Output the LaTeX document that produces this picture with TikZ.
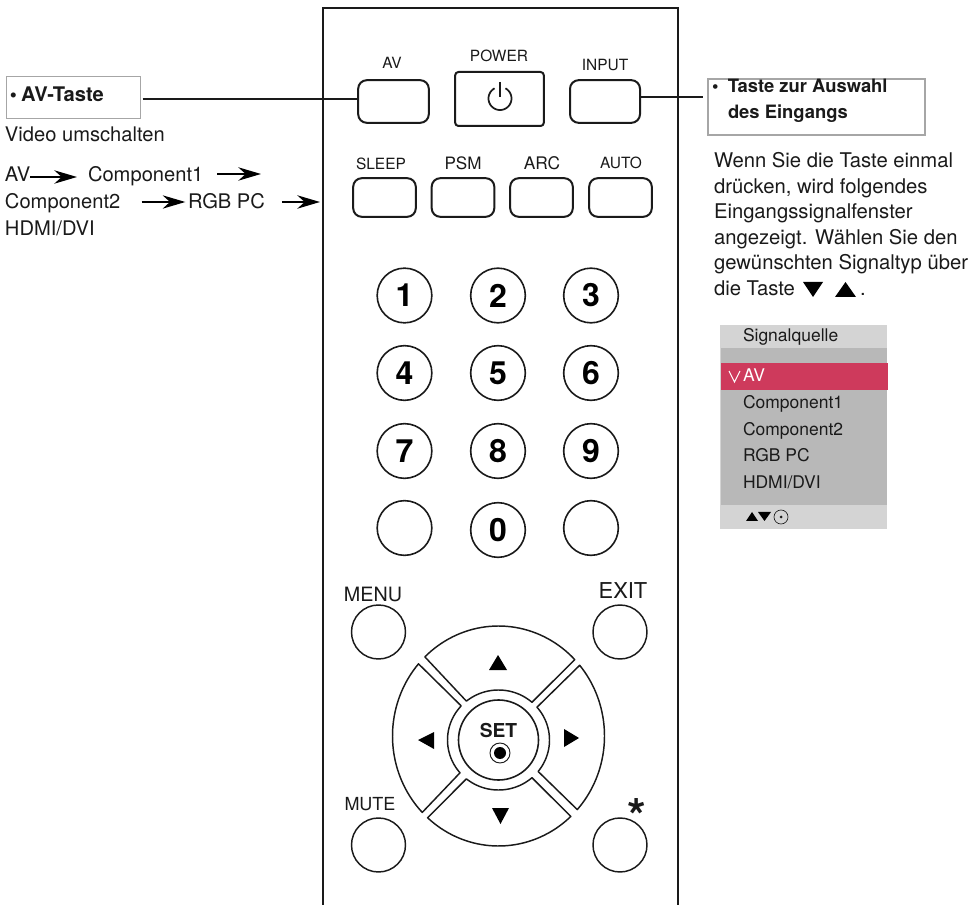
\documentclass[tikz,border=0pt]{standalone}
\usepackage{fontspec}
\setmainfont{TeX Gyre Heros}
\usetikzlibrary{arrows.meta}
\newcommand{\fs}[1]{\fontsize{#1}{#1}\selectfont}
\definecolor{ink}{HTML}{1A1A1A}
\definecolor{osdlight}{HTML}{D4D4D4}
\definecolor{osdmid}{HTML}{B8B8B8}
\definecolor{osdred}{HTML}{CE3A5C}
\tikzset{
  x=0.75pt,y=-0.75pt,
  txt/.style={inner sep=0pt,outer sep=0pt,anchor=base west,text=ink,font=\fs{15.1}},
  btnlabel/.style={inner sep=0pt,outer sep=0pt,anchor=base,text=ink,font=\fs{11.6}},
  osdtxt/.style={inner sep=0pt,outer sep=0pt,anchor=base west,text=ink,font=\fs{13.1}},
  body/.style={inner sep=0pt,outer sep=0pt,anchor=base west,text=ink,font=\fs{15.2}},
  keybtn/.style={draw=ink,line width=1.5pt,rounded corners=6.5pt,inner sep=0pt},
  numbtn/.style={draw=ink,line width=1.2pt,circle,minimum size=41pt,inner sep=0pt,font=\fs{24}\bfseries,text=black},
  plainbtn/.style={draw=ink,line width=1.1pt,circle,minimum size=40.5pt,inner sep=0pt},
  callout/.style={draw=black!35,line width=0.8pt,inner sep=0pt},
  leader/.style={draw=ink,line width=1.6pt},
  flow/.style={draw=black,line width=1.5pt,-{Stealth[length=17pt,width=10pt,inset=5.5pt]}},
  padseg/.style={draw=ink,line width=1.1pt,line join=round},
  tri/.style={fill=black,draw=none},
}
\newcommand{\padseg}[4]{%
  \draw[padseg] plot[domain=#1:#2,samples=40] ({498.5+106*cos(\x)},{736-110*sin(\x)})
   -- plot[domain=#3:#4,samples=30] ({498.5+51*cos(\x)},{740-50*sin(\x)}) -- cycle;}
\begin{document}
\begin{tikzpicture}
\useasboundingbox (0,0) rectangle (979,905);
% remote body
\coordinate (bodyBL) at (323,905);
\coordinate (bodyTL) at (323,8);
\coordinate (bodyTR) at (678,8);
\coordinate (bodyBR) at (678,905);
\draw[draw=ink,line width=1.6pt] (bodyBL) -- (bodyTL) -- (bodyTR) -- (bodyBR);
% top keys
\node[keybtn,minimum width=53pt,minimum height=32pt] (avkey) at (393.5,101.5) {};
\node[keybtn,rounded corners=2.5pt,minimum width=66.5pt,minimum height=40.5pt] (powerkey) at (499.5,99) {};
\node[keybtn,minimum width=52.5pt,minimum height=32pt] (inputkey) at (605,101.5) {};
\foreach \n/\c in {sleepkey/384.5,psmkey/463,arckey/541.5,autokey/620.5}{
  \node[keybtn,minimum width=47pt,minimum height=29pt] (\n) at (\c,197.5) {};
}
\node[btnlabel] (avlab) at (392,69) {AV};
\node[btnlabel] (powerlab) at (499,62) {POWER};
\node[btnlabel] (inputlab) at (605,71) {INPUT};
\node[btnlabel] (sleeplab) at (381,170) {SLEEP};
\node[btnlabel,font=\fs{12.8}] (psmlab) at (463,170) {PSM};
\node[btnlabel,font=\fs{13}] (arclab) at (542,170) {ARC};
\node[btnlabel] (autolab) at (621,169) {AUTO};
% power glyph
\draw[draw=ink,line width=1.3pt] (500,82) -- (500,97);
\draw[draw=ink,line width=1.3pt] plot[domain=62:-242,samples=50] ({500+11.5*cos(\x)},{98.5-11.5*sin(\x)});
% number keys
\foreach \n/\t/\cx/\cy in {n1/1/404.5/295.5,n2/2/498/295.5,n3/3/591/295.5,n4/4/404.5/373,n5/5/498/373,n6/6/591/373,n7/7/404.5/451,n8/8/498/451,n9/9/591/451,n0/0/498/530}{
  \node[numbtn] (\n) at (\cx,\cy) {\t};
}
\node[numbtn] (blankL) at (404.5,528) {};
\node[numbtn] (blankR) at (591,528) {};
% corner buttons
\node[plainbtn] (menukey) at (378.5,632) {};
\node[plainbtn] (exitkey) at (620,632) {};
\node[plainbtn] (mutekey) at (378.5,845) {};
\node[plainbtn] (starkey) at (620,845) {};
\node[btnlabel,font=\fs{14.8}] (menulab) at (373,601) {MENU};
\node[btnlabel,font=\fs{16.4}] (exitlab) at (623,599) {EXIT};
\node[btnlabel,font=\fs{13.5}] (mutelab) at (370,810) {MUTE};
\node[btnlabel,font=\fs{36}\bfseries] (starlab) at (637,833) {*};
% d-pad
\padseg{134}{44}{49}{129}
\padseg{139}{224}{221}{137}
\padseg{40}{-42}{-39}{41}
\padseg{228}{313}{311}{231}
\node[draw=ink,line width=1.2pt,circle,minimum size=60pt,inner sep=0pt] (setkey) at (498.5,740) {};
\node[inner sep=0pt,text=ink,font=\fs{14.4}\bfseries,anchor=base] (setlab) at (498.5,737) {SET};
\draw[draw=ink,line width=0.7pt] (500,753) circle[radius=10];
\fill[black] (500,753) circle[radius=6];
\fill[tri] (498,655) -- (507,670) -- (489,670) -- cycle;
\fill[tri] (500.5,824) -- (492,808) -- (509,808) -- cycle;
\fill[tri] (418,740) -- (434,732) -- (434,749) -- cycle;
\fill[tri] (579,738) -- (564,729) -- (564,747) -- cycle;
% left callout
\node[callout,minimum width=100pt,minimum height=32pt] (avbox) at (73.5,97.5) {};
\node[txt,font=\fs{15.1}\bfseries] (avtitle) at (10,102) {•\hspace{3pt}AV-Taste};
\draw[leader,shorten <=1.5pt] (avbox.east |- 0,99) -- (avkey.west |- 0,99);
\node[txt] (video) at (5,142) {Video umschalten};
\node[txt] (flowav) at (5,182) {AV};
\node[txt] (flowc1) at (88,182) {Component1};
\node[txt] (flowc2) at (5,209) {Component2};
\node[txt] (flowrgb) at (188,209) {RGB PC};
\node[txt] (flowhd) at (5,236) {HDMI/DVI};
\coordinate (c1end) at (261,174);
\coordinate (rgbend) at (320,202);
\draw[flow,shorten >=8.25pt] ([yshift=3.75pt]flowav.base east) -- ([yshift=3.75pt]flowc1.base west);
\draw[flow] ([xshift=10.5pt,yshift=6pt]flowc1.base east) -- (c1end);
\draw[flow,shorten <=16pt,shorten >=2pt] ([yshift=5.25pt]flowc2.base east) -- ([yshift=5.25pt]flowrgb.base west);
\draw[flow] ([xshift=12.75pt,yshift=5.25pt]flowrgb.base east) -- (rgbend);
% right callout
\node[callout,minimum width=162.75pt,minimum height=42pt] (inbox) at (816.5,107) {};
\draw[draw=ink,line width=1.2pt,shorten >=3pt] (inputkey.east |- 0,97) -- (inbox.west |- 0,97);
\node[txt,font=\fs{13.8}\bfseries] (intitle1) at (712,93) {•\hspace{7pt}Taste zur Auswahl};
\node[txt,font=\fs{13.8}\bfseries] (intitle2) at (728,119) {des Eingangs};
\node[body] (l1) at (714,168) {Wenn Sie die Taste einmal};
\node[body] (l2) at (714,194) {drücken, wird folgendes};
\node[body] (l3) at (714,219) {Eingangssignalfenster};
\node[body] (l4) at (714,245) {angezeigt. Wählen Sie den};
\node[body] (l5) at (714,270) {gewünschten Signaltyp über};
\node[body] (l6) at (714,296) {die Taste};
\fill[tri] (803,282) -- (823,282) -- (813,297) -- cycle;
\fill[tri] (835,297) -- (856,297) -- (845.5,282) -- cycle;
\node[body] (l6dot) at (860,296) {.};
% OSD
\fill[osdlight] (720,325) rectangle (887,529);
\fill[osdmid] (721,348) rectangle (887,505);
\fill[osdred] (721,363) rectangle (888,390);
\node[osdtxt] (osdtitle) at (743,342) {Signalquelle};
\draw[white,line width=0.8pt] (729,371) -- (734.5,382) -- (740,371);
\node[osdtxt,text=white] (osdav) at (743,382) {AV};
\node[osdtxt] (osd1) at (743,409) {Component1};
\node[osdtxt] (osd2) at (743,436) {Component2};
\node[osdtxt] (osd3) at (743,462) {RGB PC};
\node[osdtxt] (osd4) at (743,489) {HDMI/DVI};
\fill[tri] (752,512) -- (758,521) -- (746,521) -- cycle;
\fill[tri] (764.5,521) -- (758,512) -- (771,512) -- cycle;
\draw[draw=ink,line width=0.5pt] (781,517) circle[radius=7];
\fill[ink] (781,517) circle[radius=1.5];
\end{tikzpicture}
\end{document}
